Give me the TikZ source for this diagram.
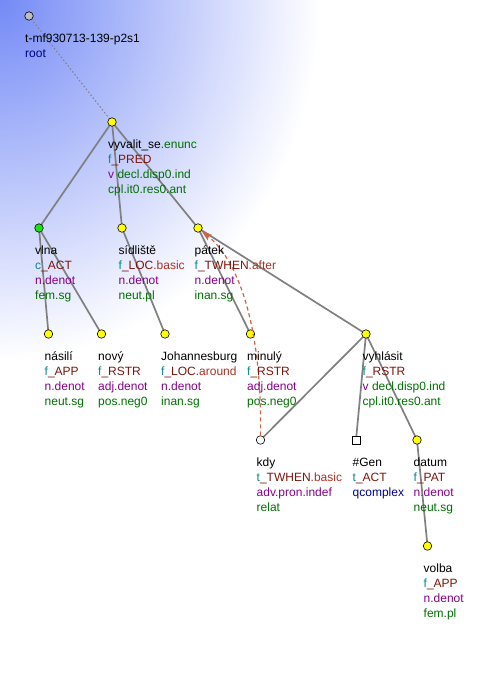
\documentclass[tikz,border=0pt]{standalone}
\usepackage{fontspec}
\setmainfont{Liberation Sans}
\usetikzlibrary{arrows.meta}
\definecolor{bgblue}{RGB}{116,138,246}
\definecolor{cgreen}{RGB}{0,112,0}
\definecolor{cteal}{RGB}{0,140,140}
\definecolor{cdred}{RGB}{125,20,10}
\definecolor{clred}{RGB}{170,50,35}
\definecolor{cpurp}{RGB}{135,0,140}
\definecolor{cnavy}{RGB}{0,0,140}
\definecolor{edgegray}{RGB}{128,128,128}
\definecolor{corefred}{RGB}{210,100,70}
\definecolor{nyellow}{RGB}{255,255,0}
\definecolor{ngreen}{RGB}{20,230,20}
\definecolor{ngray}{RGB}{190,190,190}
\newcommand{\fst}{\rule{0pt}{10.5pt}}
\begin{document}
\begin{tikzpicture}[x=1pt,y=-1pt,
  tn/.style={circle, draw=black, line width=0.6pt, minimum size=8.5pt, inner sep=0pt},
  yel/.style={tn, fill=nyellow},
  grn/.style={tn, fill=ngreen},
  gry/.style={tn, fill=ngray},
  wht/.style={tn, fill=white},
  sqr/.style={rectangle, draw=black, line width=0.6pt, minimum size=8pt, inner sep=0pt, fill=white},
  lbl/.style={anchor=north west, inner sep=0pt, align=left, font=\fontsize{12}{15}\selectfont},
  edge/.style={draw=edgegray, line width=1.7pt},
  rootedge/.style={draw=edgegray, line width=1pt, dash pattern=on 1.5pt off 2.2pt},
  coref/.style={draw=corefred, line width=1.2pt, dash pattern=on 4pt off 3pt, -{Stealth[length=11pt,width=7pt,inset=2.5pt]}}
]
\useasboundingbox (0,0) rectangle (494,700);
\begin{scope}
\clip (0,0) rectangle (494,700);
\shade[inner color=bgblue, outer color=white] (-320,-360) rectangle (320,360);
\end{scope}

% coordinates of tree nodes
\coordinate (c-root) at (29,16);
\coordinate (c-vyv) at (112,122);
\coordinate (c-vlna) at (39,228);
\coordinate (c-sid) at (122,228);
\coordinate (c-pat) at (198,228);
\coordinate (c-nas) at (48.5,334);
\coordinate (c-nov) at (101.5,334);
\coordinate (c-joh) at (165,334);
\coordinate (c-min) at (250.5,334);
\coordinate (c-vyh) at (366,334);
\coordinate (c-kdy) at (260.5,440);
\coordinate (c-gen) at (356,440);
\coordinate (c-dat) at (417,440);
\coordinate (c-vol) at (427.5,546);

% edges
\draw[rootedge] (c-root) -- (c-vyv);
\draw[edge] (c-vyv) -- (c-vlna);
\draw[edge] (c-vyv) -- (c-sid);
\draw[edge] (c-vyv) -- (c-pat);
\draw[edge] (c-vlna) -- (c-nas);
\draw[edge] (c-vlna) -- (c-nov);
\draw[edge] (c-sid) -- (c-joh);
\draw[edge] (c-pat) -- (c-min);
\draw[edge] (c-pat) -- (c-vyh);
\draw[edge] (c-vyh) -- (c-kdy);
\draw[edge] (c-vyh) -- (c-gen);
\draw[edge] (c-vyh) -- (c-dat);
\draw[edge] (c-dat) -- (c-vol);

% tree nodes
\node[gry] (root) at (c-root) {};
\node[yel] (vyv) at (c-vyv) {};
\node[grn] (vlna) at (c-vlna) {};
\node[yel] (sid) at (c-sid) {};
\node[yel] (pat) at (c-pat) {};
\node[yel] (nas) at (c-nas) {};
\node[yel] (nov) at (c-nov) {};
\node[yel] (joh) at (c-joh) {};
\node[yel] (min) at (c-min) {};
\node[yel] (vyh) at (c-vyh) {};
\node[wht] (kdy) at (c-kdy) {};
\node[sqr] (gen) at (c-gen) {};
\node[yel] (dat) at (c-dat) {};
\node[yel] (vol) at (c-vol) {};

% coreference
\draw[coref] (kdy) .. controls (262,330) and (240,262) .. (pat);

% labels
\node[lbl] (l-root) at (25,31.5) {\fst t-mf930713-139-p2s1\\\textcolor{cnavy}{root}};
\node[lbl] (l-vyv) at (108,137.5) {\fst vyvalit\_se\textcolor{cgreen}{.enunc}\\\textcolor{cteal}{f}\textcolor{cdred}{\_PRED}\\\textcolor{cpurp}{v}\ \textcolor{cgreen}{decl.disp0.ind}\\\textcolor{cgreen}{cpl.it0.res0.ant}};
\node[lbl] (l-vlna) at (35,243.5) {\fst vlna\\\textcolor{cteal}{c}\textcolor{cdred}{\_ACT}\\\textcolor{cpurp}{n.denot}\\\textcolor{cgreen}{fem.sg}};
\node[lbl] (l-sid) at (118.5,243.5) {\fst sídliště\\\textcolor{cteal}{f}\textcolor{cdred}{\_LOC}\textcolor{clred}{.basic}\\\textcolor{cpurp}{n.denot}\\\textcolor{cgreen}{neut.pl}};
\node[lbl] (l-pat) at (194.5,243.5) {\fst pátek\\\textcolor{cteal}{f}\textcolor{cdred}{\_TWHEN}\textcolor{clred}{.after}\\\textcolor{cpurp}{n.denot}\\\textcolor{cgreen}{inan.sg}};
\node[lbl] (l-nas) at (44.5,349.5) {\fst násilí\\\textcolor{cteal}{f}\textcolor{cdred}{\_APP}\\\textcolor{cpurp}{n.denot}\\\textcolor{cgreen}{neut.sg}};
\node[lbl] (l-nov) at (98,349.5) {\fst nový\\\textcolor{cteal}{f}\textcolor{cdred}{\_RSTR}\\\textcolor{cpurp}{adj.denot}\\\textcolor{cgreen}{pos.neg0}};
\node[lbl] (l-joh) at (161,349.5) {\fst Johannesburg\\\textcolor{cteal}{f}\textcolor{cdred}{\_LOC}\textcolor{clred}{.around}\\\textcolor{cpurp}{n.denot}\\\textcolor{cgreen}{inan.sg}};
\node[lbl] (l-min) at (247,349.5) {\fst minulý\\\textcolor{cteal}{f}\textcolor{cdred}{\_RSTR}\\\textcolor{cpurp}{adj.denot}\\\textcolor{cgreen}{pos.neg0}};
\node[lbl] (l-vyh) at (362.5,349.5) {\fst vyhlásit\\\textcolor{cteal}{f}\textcolor{cdred}{\_RSTR}\\\textcolor{cpurp}{v}\ \textcolor{cgreen}{decl.disp0.ind}\\\textcolor{cgreen}{cpl.it0.res0.ant}};
\node[lbl] (l-kdy) at (256.5,455.5) {\fst kdy\\\textcolor{cteal}{t}\textcolor{cdred}{\_TWHEN}\textcolor{clred}{.basic}\\\textcolor{cpurp}{adv.pron.indef}\\\textcolor{cgreen}{relat}};
\node[lbl] (l-gen) at (352.5,455.5) {\fst \#Gen\\\textcolor{cteal}{t}\textcolor{cdred}{\_ACT}\\\textcolor{cnavy}{qcomplex}};
\node[lbl] (l-dat) at (413.5,455.5) {\fst datum\\\textcolor{cteal}{f}\textcolor{cdred}{\_PAT}\\\textcolor{cpurp}{n.denot}\\\textcolor{cgreen}{neut.sg}};
\node[lbl] (l-vol) at (423.5,561.5) {\fst volba\\\textcolor{cteal}{f}\textcolor{cdred}{\_APP}\\\textcolor{cpurp}{n.denot}\\\textcolor{cgreen}{fem.pl}};
\end{tikzpicture}
\end{document}
